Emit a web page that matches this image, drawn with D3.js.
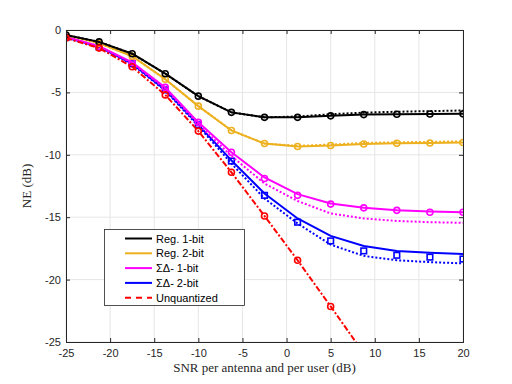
<!DOCTYPE html>
<html><head><meta charset="utf-8">
<script src="https://cdn.jsdelivr.net/npm/d3@7"></script>
<style>body{margin:0;background:#fff}svg{display:block}</style>
</head><body><svg id="c" width="512" height="384"></svg>
<script>
const snr = [-25,-21.25,-17.5,-13.75,-10,-6.25,-2.5,1.25,5,8.75,12.5,16.25,20];
const xTicks = [-25,-20,-15,-10,-5,0,5,10,15,20];
const yTicks = [-25,-20,-15,-10,-5,0];
// solid lines
const reg1 = [-0.4,-0.95,-1.9,-3.5,-5.3,-6.6,-7.0,-7.0,-6.88,-6.78,-6.75,-6.73,-6.72];
const reg2 = [-0.4,-1.05,-2.1,-3.95,-6.1,-8.05,-9.1,-9.33,-9.25,-9.13,-9.08,-9.05,-9.02];
const sd1  = [-0.55,-1.3,-2.6,-4.6,-7.4,-9.8,-11.82,-13.15,-13.9,-14.25,-14.45,-14.55,-14.6];
const sd2  = [-0.6,-1.35,-2.7,-4.8,-7.6,-10.45,-13.1,-15.1,-16.5,-17.3,-17.7,-17.85,-17.95];
// dotted approximations
const reg1Dot = [-0.4,-0.95,-1.9,-3.5,-5.3,-6.6,-7.0,-6.93,-6.75,-6.62,-6.55,-6.5,-6.45];
const reg2Dot = [-0.4,-1.05,-2.1,-3.95,-6.1,-8.05,-9.1,-9.28,-9.18,-9.05,-9.0,-8.96,-8.92];
const sd1Dot  = [-0.55,-1.3,-2.65,-4.7,-7.55,-10.1,-12.3,-13.7,-14.7,-15.1,-15.3,-15.4,-15.45];
const sd2Dot  = [-0.6,-1.38,-2.75,-4.85,-7.7,-10.7,-13.5,-15.5,-17.2,-18.1,-18.45,-18.6,-18.7];
// markers (simulation)
const reg1Sim = [-0.4,-0.95,-1.9,-3.5,-5.3,-6.6,-7.0,-7.0,-6.88,-6.78,-6.75,-6.73,-6.72];
const reg2Sim = [-0.4,-1.05,-2.1,-3.95,-6.1,-8.05,-9.1,-9.33,-9.25,-9.13,-9.08,-9.05,-9.02];
const sd1Sim  = [-0.55,-1.3,-2.6,-4.6,-7.4,-9.8,-11.9,-13.25,-13.95,-14.25,-14.45,-14.6,-14.6];
const sd2Sim  = [-0.6,-1.35,-2.7,-4.8,-7.6,-10.5,-13.25,-15.4,-16.9,-17.7,-18.05,-18.2,-18.35];
const unq = [-0.65,-1.45,-2.95,-5.2,-8.1,-11.4,-14.9,-18.45,-22.15,-25.9];
const names = ["Reg. 1-bit","Reg. 2-bit","\u03A3\u0394- 1-bit","\u03A3\u0394- 2-bit","Unquantized"];
const colors = ["#000000","#EDB120","#FF00FF","#0000FF","#FF0000"];

const svg = d3.select("#c");
const L=66,R=463,T=30,B=342;
const x = d3.scaleLinear().domain([-25,20]).range([L,R]);
const y = d3.scaleLinear().domain([-25,0]).range([B,T]);

svg.append("defs").append("clipPath").attr("id","clip").append("rect")
  .attr("x",L).attr("y",T).attr("width",R-L).attr("height",B-T);

// grid
const g = svg.append("g");
g.selectAll(".gx").data(xTicks).join("line").attr("x1",d=>x(d)).attr("x2",d=>x(d)).attr("y1",T).attr("y2",B)
 .attr("stroke","#e6e6e6").attr("stroke-width",1);
g.selectAll(".gy").data(yTicks).join("line").attr("y1",d=>y(d)).attr("y2",d=>y(d)).attr("x1",L).attr("x2",R)
 .attr("stroke","#e6e6e6").attr("stroke-width",1);

const plot = svg.append("g").attr("clip-path","url(#clip)");
const line = d3.line().x((d,i)=>x(snr[i])).y(d=>y(d));

function drawSeries(vals, dot, sim, col, marker){
  plot.append("path").datum(dot).attr("d",line).attr("fill","none").attr("stroke",col)
    .attr("stroke-width",2).attr("stroke-dasharray","2,2");
  plot.append("path").datum(vals).attr("d",line).attr("fill","none").attr("stroke",col).attr("stroke-width",2);
  if(marker==="circle"){
    plot.selectAll(null).data(sim).join("circle").attr("cx",(d,i)=>x(snr[i])).attr("cy",d=>y(d)).attr("r",3)
      .attr("fill","none").attr("stroke",col).attr("stroke-width",1.6);
  } else {
    plot.selectAll(null).data(sim).join("rect").attr("x",(d,i)=>x(snr[i])-2.8).attr("y",d=>y(d)-2.8)
      .attr("width",5.6).attr("height",5.6).attr("fill","none").attr("stroke",col).attr("stroke-width",1.6);
  }
}
drawSeries(sd2, sd2Dot, sd2Sim, colors[3], "square");
drawSeries(sd1, sd1Dot, sd1Sim, colors[2], "circle");
drawSeries(reg2, reg2Dot, reg2Sim, colors[1], "circle");
drawSeries(reg1, reg1Dot, reg1Sim, colors[0], "circle");
plot.append("path").datum(unq).attr("d",line).attr("fill","none").attr("stroke",colors[4])
  .attr("stroke-width",2).attr("stroke-dasharray","6,2,2,2");
plot.selectAll(null).data(unq.filter(v=>v>=-25)).join("circle").attr("cx",(d,i)=>x(snr[i])).attr("cy",d=>y(d)).attr("r",3)
  .attr("fill","none").attr("stroke",colors[4]).attr("stroke-width",1.6);

// axes
const fmt = d => String(d);
svg.append("g").attr("transform",`translate(0,${B})`)
  .call(d3.axisBottom(x).tickValues(xTicks).tickSize(-4).tickPadding(7).tickFormat(fmt));
svg.append("g").attr("transform",`translate(${L},0)`)
  .call(d3.axisLeft(y).tickValues(yTicks).tickSize(-4).tickPadding(5).tickFormat(fmt));
svg.append("g").attr("transform",`translate(0,${T})`)
  .call(d3.axisTop(x).tickValues(xTicks).tickSize(-4).tickFormat(""));
svg.append("g").attr("transform",`translate(${R},0)`)
  .call(d3.axisRight(y).tickValues(yTicks).tickSize(-4).tickFormat(""));
svg.selectAll(".domain").attr("stroke","#262626");
svg.selectAll(".tick line").attr("stroke","#262626");
svg.selectAll(".tick text").attr("font-family","Liberation Sans, Arial, sans-serif").attr("font-size",11).attr("fill","#262626");

svg.append("text").attr("x",(L+R)/2).attr("y",372).attr("text-anchor","middle")
  .attr("font-family","Liberation Serif, serif").attr("font-size",13).attr("fill","#262626")
  .text("SNR per antenna and per user (dB)");
svg.append("text").attr("transform",`translate(31,${(T+B)/2}) rotate(-90)`).attr("text-anchor","middle")
  .attr("font-family","Liberation Serif, serif").attr("font-size",13).attr("fill","#262626")
  .text("NE (dB)");

// legend
const lg = svg.append("g");
lg.append("rect").attr("x",104.5).attr("y",229.5).attr("width",140).attr("height",76)
  .attr("fill","#fff").attr("stroke","#262626").attr("stroke-width",0.8);
names.forEach((n,i)=>{
  const yy = 238.5 + i*14.8;
  lg.append("line").attr("x1",125).attr("x2",152).attr("y1",yy).attr("y2",yy).attr("stroke",colors[i])
    .attr("stroke-width",2).attr("stroke-dasharray", i===4 ? "6,5" : null);
  lg.append("text").attr("x",156).attr("y",yy+4).attr("font-family","Liberation Sans, Arial, sans-serif")
    .attr("font-size",11).attr("fill","#000").text(n);
});
</script></body></html>
